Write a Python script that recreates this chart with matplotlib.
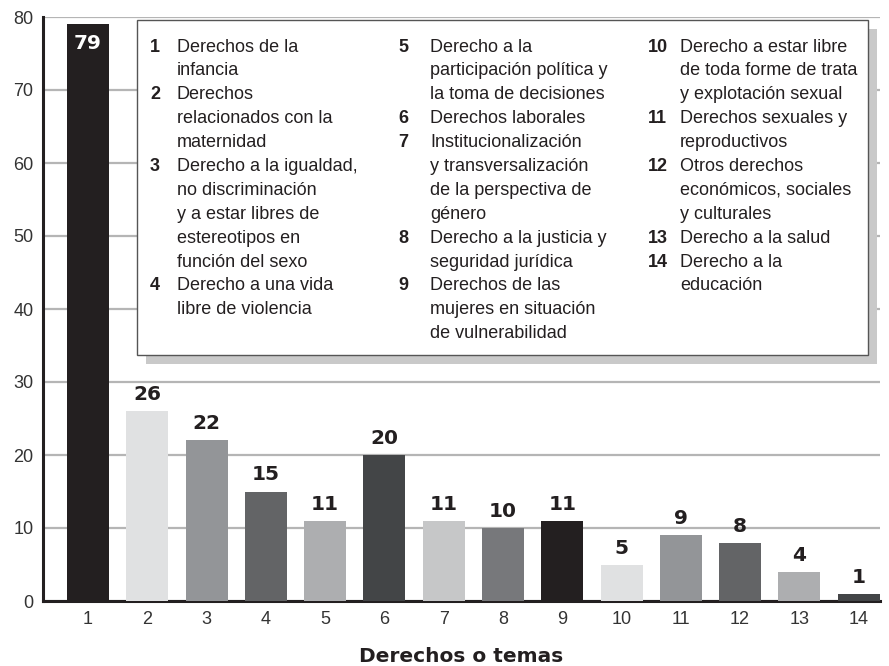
import matplotlib
matplotlib.use("Agg")
import matplotlib.pyplot as plt
from matplotlib.patches import Rectangle

categories = [str(i) for i in range(1, 15)]
values = [79, 26, 22, 15, 11, 20, 11, 10, 11, 5, 9, 8, 4, 1]
bar_colors = ["#231f20", "#e0e1e2", "#939598", "#636466", "#adaeb0", "#434547", "#c6c7c8",
              "#77787b", "#231f20", "#e0e1e2", "#939598", "#636466", "#adaeb0", "#434547"]
yticks = [0, 10, 20, 30, 40, 50, 60, 70, 80]
xlabel = "Derechos o temas"

legend_cols = [
    [("1", "Derechos de la\ninfancia"),
     ("2", "Derechos\nrelacionados con la\nmaternidad"),
     ("3", "Derecho a la igualdad,\nno discriminación\ny a estar libres de\nestereotipos en\nfunción del sexo"),
     ("4", "Derecho a una vida\nlibre de violencia")],
    [("5", "Derecho a la\nparticipación política y\nla toma de decisiones"),
     ("6", "Derechos laborales"),
     ("7", "Institucionalización\ny transversalización\nde la perspectiva de\ngénero"),
     ("8", "Derecho a la justicia y\nseguridad jurídica"),
     ("9", "Derechos de las\nmujeres en situación\nde vulnerabilidad")],
    [("10", "Derecho a estar libre\nde toda forme de trata\ny explotación sexual"),
     ("11", "Derechos sexuales y\nreproductivos"),
     ("12", "Otros derechos\neconómicos, sociales\ny culturales"),
     ("13", "Derecho a la salud"),
     ("14", "Derecho a la\neducación")],
]

plt.rcParams['font.family'] = ['Liberation Sans', 'DejaVu Sans']
BOLD_FAM = ['DejaVu Sans']

W, H = 889, 666
fig = plt.figure(figsize=(W / 100, H / 100), dpi=100)
ax = fig.add_axes([43 / W, 1 - 601 / H, (880 - 43) / W, (601 - 17) / H])

x = list(range(1, 15))
ax.bar(x, values, width=0.71, color=bar_colors, zorder=3)
ax.set_ylim(0, 80)
ax.set_xlim(0.24, 14.36)
ax.set_yticks(yticks)
ax.set_xticks(x)
ax.set_xticklabels(categories)
ax.tick_params(axis='both', length=0, labelsize=13, colors="#333333")
ax.tick_params(axis='x', pad=7)
ax.tick_params(axis='y', pad=7)
ax.yaxis.grid(True, color="#b5b5b5", linewidth=1.6, zorder=0)
ax.set_axisbelow(True)
for s in ["top", "right"]:
    ax.spines[s].set_visible(False)
ax.spines["left"].set_linewidth(2.2)
ax.spines["bottom"].set_linewidth(2.2)
ax.spines["left"].set_color("#231f20")
ax.spines["bottom"].set_color("#231f20")

for xi, v in zip(x, values):
    if v > 70:
        ax.annotate(str(v), (xi, v), xytext=(0, -19), textcoords="offset pixels",
                    ha="center", va="center", fontsize=14.5, fontweight="bold", color="white",
                    family=BOLD_FAM, zorder=5)
    else:
        ax.annotate(str(v), (xi, v), xytext=(0, 7), textcoords="offset pixels",
                    ha="center", va="bottom", fontsize=14.5, fontweight="bold", color="#231f20",
                    family=BOLD_FAM, zorder=5)


def fx(px):
    return px / W


def fy(py):
    return 1 - py / H


fig.text(fx(461), fy(656), xlabel, fontsize=14.5, fontweight="bold", color="#231f20",
         ha="center", va="center", family=BOLD_FAM)

# legend box with shadow (figure pixel coords)
bx0, by0, bx1, by1 = 137, 20, 868, 355
shadow = Rectangle((fx(bx0 + 9), fy(by1 + 9)), fx(bx1 - bx0), (by1 - by0) / H,
                   transform=fig.transFigure, facecolor="#c9c9c9", edgecolor="none", zorder=6)
box = Rectangle((fx(bx0), fy(by1)), fx(bx1 - bx0), (by1 - by0) / H,
                transform=fig.transFigure, facecolor="white", edgecolor="#555555", linewidth=1.0, zorder=7)
fig.add_artist(shadow)
fig.add_artist(box)

col_num_x = [150, 398, 648]
col_txt_x = [177, 430, 680]
line_h = 23.9
y_start = 47
for ci, col in enumerate(legend_cols):
    line = 0
    for num, txt in col:
        yy = y_start + line * line_h
        fig.text(fx(col_num_x[ci]), fy(yy), num, fontsize=13, fontweight="bold",
                 color="#231f20", va="center", ha="left", zorder=8)
        for li, part in enumerate(txt.split("\n")):
            fig.text(fx(col_txt_x[ci]), fy(y_start + (line + li) * line_h), part, fontsize=13,
                     color="#231f20", va="center", ha="left", zorder=8)
        line += len(txt.split("\n"))

fig.savefig("out.png", dpi=100)
